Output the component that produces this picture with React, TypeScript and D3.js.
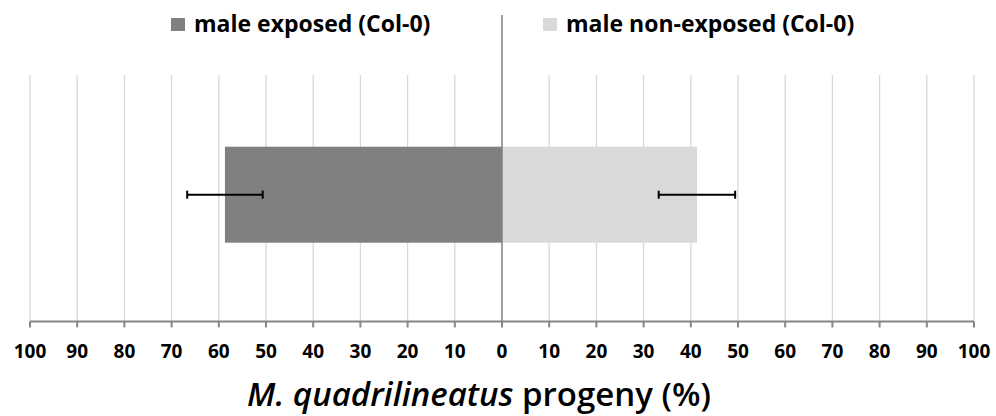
import React from "react";
import * as d3 from "d3";

const series = ["male exposed (Col-0)", "male non-exposed (Col-0)"];
const values = [58.7, 41.3];
const errors = [8.0, 8.1];
const sides = [-1, 1];
const colors = ["#808080", "#d9d9d9"];
const tickValues = [-100, -90, -80, -70, -60, -50, -40, -30, -20, -10, 0, 10, 20, 30, 40, 50, 60, 70, 80, 90, 100];

const W = 996;
const H = 416;
const FONT = "'Open Sans', Lato, sans-serif";

export default function App() {
  const x = d3.scaleLinear().domain([-100, 100]).range([30, 974]);
  const yTop = 75;
  const yAxis = 321.5;
  const bandTop = 146.7;
  const bandH = 96;
  const cy = bandTop + bandH / 2;

  return (
    <svg width={W} height={H} style={{ position: "absolute", left: 0, top: 0, background: "#fff" }}>
      {tickValues.map((t) =>
        t === 0 ? null : (
          <line key={"g" + t} x1={x(t)} x2={x(t)} y1={yTop} y2={yAxis} stroke="#d9d9d9" strokeWidth={1.3} />
        )
      )}
      {values.map((v, i) => {
        const xa = x(0);
        const xb = x(sides[i] * v);
        return (
          <rect key={"b" + i} x={Math.min(xa, xb)} y={bandTop} width={Math.abs(xb - xa)} height={bandH} fill={colors[i]} />
        );
      })}
      <line x1={x(0)} x2={x(0)} y1={15} y2={yAxis} stroke="#808080" strokeWidth={1.5} />
      <line x1={x(-100)} x2={x(100)} y1={yAxis} y2={yAxis} stroke="#868686" strokeWidth={2} />
      {tickValues.map((t) => (
        <line key={"t" + t} x1={x(t)} x2={x(t)} y1={yAxis} y2={yAxis + 6} stroke="#868686" strokeWidth={2} />
      ))}
      {values.map((v, i) => {
        const lo = x(sides[i] * (v - errors[i]));
        const hi = x(sides[i] * (v + errors[i]));
        return (
          <g key={"e" + i} stroke="#000" strokeWidth={2}>
            <line x1={lo} x2={hi} y1={cy} y2={cy} />
            <line x1={lo} x2={lo} y1={cy - 4} y2={cy + 4} />
            <line x1={hi} x2={hi} y1={cy - 4} y2={cy + 4} />
          </g>
        );
      })}
      {tickValues.map((t) => (
        <text key={"l" + t} x={x(t)} y={358} textAnchor="middle" fontFamily={FONT} fontWeight="bold" fontSize={19} fill="#000">
          {Math.abs(t)}
        </text>
      ))}
      <text x={479} y={406} textAnchor="middle" fontFamily={FONT} fontSize={33} fill="#000" fontWeight={600}>
        <tspan fontStyle="italic">M. quadrilineatus</tspan>
        <tspan> progeny (%)</tspan>
      </text>
      {series.map((s, i) => {
        const lx = i === 0 ? 171 : 543;
        return (
          <g key={"lg" + i}>
            <rect x={lx} y={18} width={14} height={13} fill={colors[i]} />
            <text x={lx + 23} y={32} fontFamily={FONT} fontWeight="bold" fontSize={23} fill="#000">
              {s}
            </text>
          </g>
        );
      })}
    </svg>
  );
}
